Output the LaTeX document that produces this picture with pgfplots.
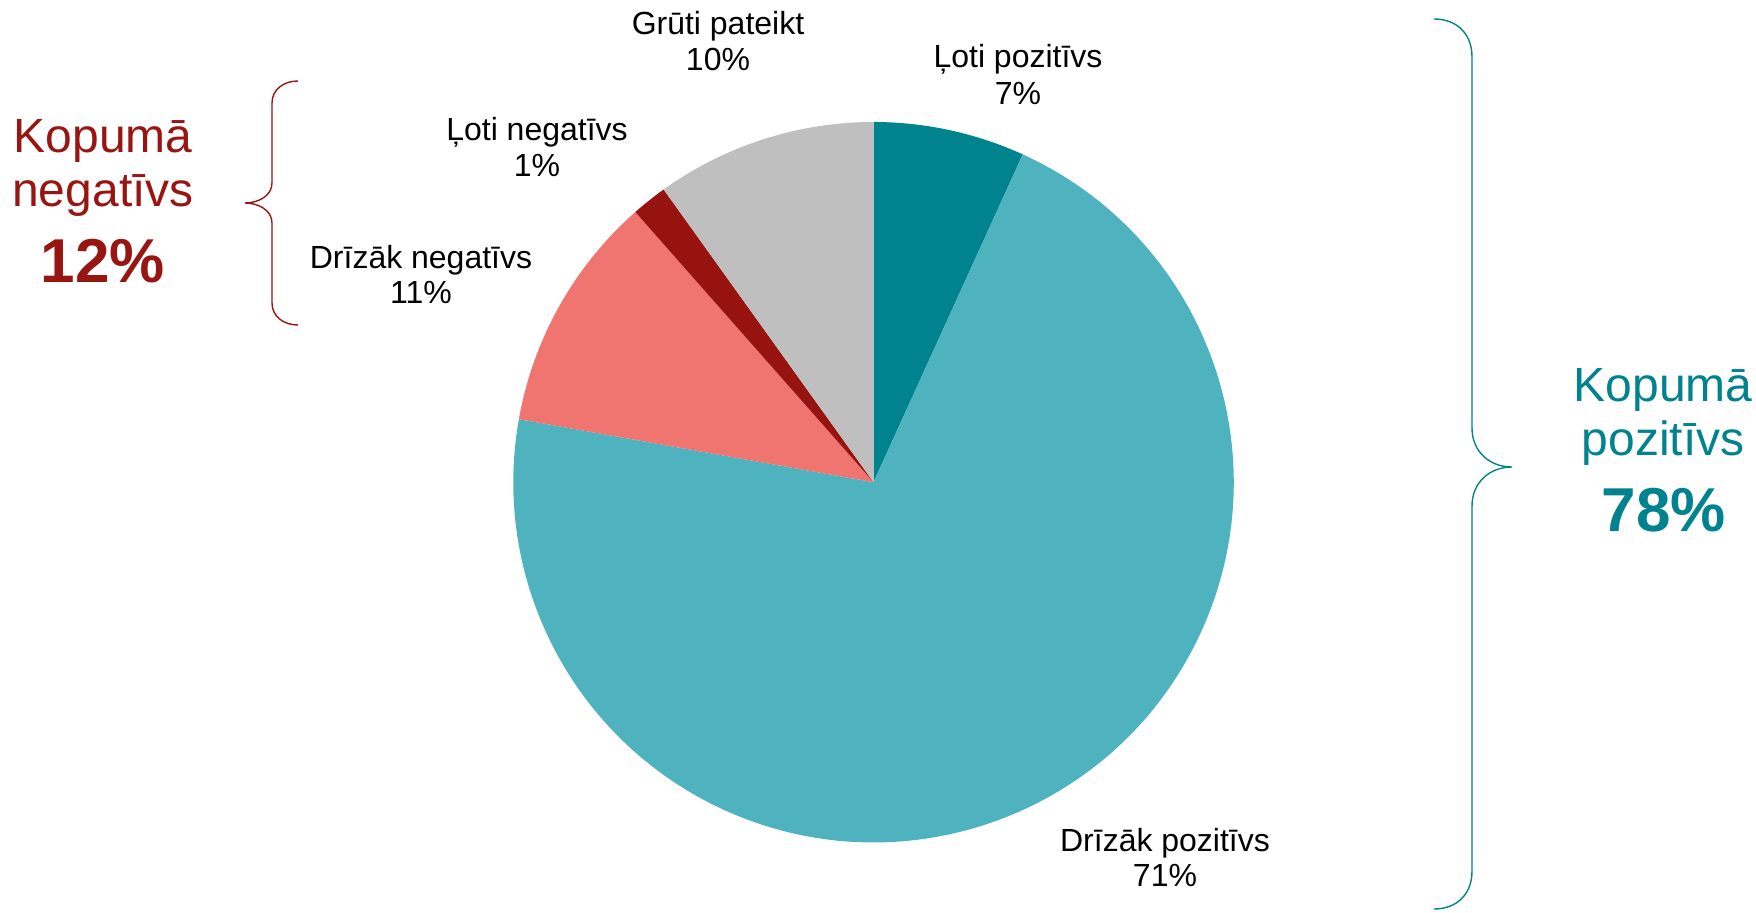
\documentclass[border=0pt]{standalone}
\usepackage{fontspec}
\setmainfont{Liberation Sans}
\usepackage{pgfplots}
\usepackage{pgfplotstable}
\pgfplotsset{compat=1.18}
\definecolor{cLP}{RGB}{0,131,143}
\definecolor{cDP}{RGB}{79,179,191}
\definecolor{cDN}{RGB}{240,116,112}
\definecolor{cLN}{RGB}{150,19,16}
\definecolor{cGP}{RGB}{191,191,191}
\definecolor{negtxt}{RGB}{152,22,18}
\definecolor{postxt}{RGB}{0,131,143}

% share of each answer, in %, clockwise from 12 o'clock
\pgfplotstableread{
value color
6.8  cLP
71.0 cDP
10.7 cDN
1.6  cLN
9.9  cGP
}\piedata

\newcommand\lbl[5]{%
  \node[anchor=base, inner sep=0pt, font=\fontsize{16}{19}\selectfont] at (#1,#2) {#4};
  \node[anchor=base, inner sep=0pt, font=\fontsize{16}{19}\selectfont] at (#1,#3) {#5};}

\begin{document}
\begin{tikzpicture}[x=0.5pt,y=0.5pt]
\useasboundingbox (0,0) rectangle (1756,912);
\begin{axis}[at={(436.75pt,214.9pt)}, anchor=origin,
  x=180.1pt, y=180.1pt, xmin=-1, xmax=1, ymin=-1, ymax=1,
  hide axis, clip=false]
\def\angA{90}
\pgfplotsforeachungrouped \i in {0,...,4}{%
  \pgfplotstablegetelem{\i}{value}\of\piedata \let\sliceval\pgfplotsretval
  \pgfplotstablegetelem{\i}{color}\of\piedata \let\slicecol\pgfplotsretval
  \pgfmathsetmacro\angB{\angA-3.6*\sliceval}%
  \edef\temp{\noexpand\fill[\slicecol] (axis cs:0,0) -- ++(\angA:180.1pt) arc[start angle=\angA, end angle=\angB, radius=180.1pt] -- cycle;}%
  \temp
  \let\angA\angB
}
\end{axis}
\begin{scope}[shift={(0,912)}, yscale=-1]
  \lbl{718}{34.3}{71}{Grūti pateikt}{10\%}
  \lbl{1018}{67.3}{105}{Ļoti pozitīvs}{7\%}
  \lbl{537}{140.7}{176.7}{Ļoti negatīvs}{1\%}
  \lbl{421}{268.3}{303.3}{Drīzāk negatīvs}{11\%}
  \lbl{1165}{851}{886}{Drīzāk pozitīvs}{71\%}
  % total negative
  \node[anchor=base, inner sep=0pt, text=negtxt, font=\fontsize{24}{28}\selectfont] at (103,153) {Kopumā};
  \node[anchor=base, inner sep=0pt, text=negtxt, font=\fontsize{24}{28}\selectfont] at (103,207) {negatīvs};
  \node[anchor=base, inner sep=0pt, text=negtxt, font=\fontsize{31}{36}\selectfont\bfseries] at (103,283) {12\%};
  % total positive
  \node[anchor=base, inner sep=0pt, text=postxt, font=\fontsize{24}{28}\selectfont] at (1663,401) {Kopumā};
  \node[anchor=base, inner sep=0pt, text=postxt, font=\fontsize{24}{28}\selectfont] at (1663,455) {pozitīvs};
  \node[anchor=base, inner sep=0pt, text=postxt, font=\fontsize{31}{36}\selectfont\bfseries] at (1664,531) {78\%};
  % braces
  \draw[negtxt, line width=0.7pt] (298,81) .. controls (283,81) and (272,90) .. (272,103)
     -- (272,183) .. controls (272,196) and (258,203) .. (245,203)
     .. controls (258,203) and (272,210) .. (272,223)
     -- (272,303) .. controls (272,316) and (283,325) .. (298,325);
  \draw[postxt, line width=0.7pt] (1434,19) .. controls (1456,19) and (1472,33) .. (1472,57)
     -- (1472,428) .. controls (1472,452) and (1490,467) .. (1512,467)
     .. controls (1490,467) and (1472,482) .. (1472,506)
     -- (1472,871) .. controls (1472,895) and (1456,909) .. (1434,909);
\end{scope}
\end{tikzpicture}
\end{document}
